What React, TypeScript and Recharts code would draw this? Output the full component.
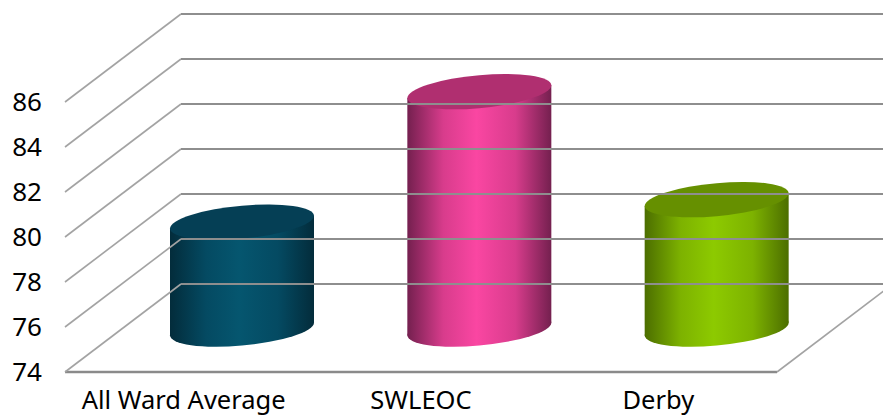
import { Bar, BarChart, XAxis, YAxis } from "recharts";

const categories = ["All Ward Average", "SWLEOC", "Derby"];
const values = [78.75, 84.55, 79.75];
const yTicks = [74, 76, 78, 80, 82, 84, 86];

const bodyColors = [
  { edge: "#032c3b", shade: "#044a62", mid: "#05566f", top: "#053f55" },
  { edge: "#74204f", shade: "#d83c8c", mid: "#fa46a2", top: "#b02f70" },
  { edge: "#4c6e00", shade: "#7db200", mid: "#8dca00", top: "#669000" },
];

const chartData = categories.map((name, i) => ({ name, value: values[i] }));

const FONT = "'Noto Sans', sans-serif";
const DEPTH_X = 116;
const DEPTH_Y = 88;
const BAR_LIFT = 43;
const FLOOR_RIGHT = 777;
const CHART_W = 883;
const CHART_H = 417;

// label, side wall line and back wall line for one value
function WallTick({ y, payload }: any) {
  return (
    <g>
      <line x1={65} y1={y} x2={65 + DEPTH_X} y2={y - DEPTH_Y} stroke="#a3a3a3" strokeWidth={1.6} />
      <line x1={65 + DEPTH_X} y1={y - DEPTH_Y} x2={CHART_W} y2={y - DEPTH_Y} stroke="#8e8e8e" strokeWidth={2} />
      {payload.value === yTicks[0] && (
        <line
          x1={FLOOR_RIGHT}
          y1={y}
          x2={FLOOR_RIGHT + DEPTH_X}
          y2={y - DEPTH_Y}
          stroke="#a3a3a3"
          strokeWidth={1.6}
        />
      )}
      <text x={42} y={y} dy={9} textAnchor="end" fontFamily={FONT} fontSize={26} fill="#000">
        {payload.value}
      </text>
    </g>
  );
}

// cylinder standing halfway back on the floor
function Cylinder({ x, y, width, height, index }: any) {
  const rx = width / 2;
  const ry = 16.5;
  const shear = -0.088;
  const cx = x + rx + DEPTH_X / 2;
  const top = y - BAR_LIFT;
  const bottom = y + height - BAR_LIFT;
  const tilt = rx * shear;
  const fill = `url(#cyl${index})`;
  return (
    <g>
      <ellipse rx={rx} ry={ry} fill={fill} transform={`translate(${cx} ${bottom}) matrix(1 ${shear} 0 1 0 0)`} />
      <polygon
        points={`${cx - rx},${top - tilt} ${cx + rx},${top + tilt} ${cx + rx},${bottom + tilt} ${cx - rx},${bottom - tilt}`}
        fill={fill}
      />
      <ellipse
        rx={rx}
        ry={ry}
        fill={bodyColors[index].top}
        transform={`translate(${cx} ${top}) matrix(1 ${shear} 0 1 0 0)`}
      />
    </g>
  );
}

export default function App() {
  return (
    <div style={{ position: "absolute", left: 0, top: 0, width: CHART_W, height: CHART_H, overflow: "hidden" }}>
      <BarChart
        width={CHART_W}
        height={CHART_H}
        data={chartData}
        margin={{ top: 102, right: CHART_W - FLOOR_RIGHT, bottom: 0, left: 0 }}
        barSize={144}
      >
        <defs>
          {bodyColors.map((c, i) => (
            <linearGradient key={i} id={`cyl${i}`} x1="0" y1="0" x2="1" y2="0">
              <stop offset="0%" stopColor={c.edge} />
              <stop offset="25%" stopColor={c.shade} />
              <stop offset="48%" stopColor={c.mid} />
              <stop offset="75%" stopColor={c.shade} />
              <stop offset="100%" stopColor={c.edge} />
            </linearGradient>
          ))}
        </defs>
        <YAxis
          domain={[74, 86]}
          ticks={yTicks}
          width={65}
          axisLine={false}
          tickLine={false}
          tick={<WallTick />}
          interval={0}
        />
        <XAxis
          dataKey="name"
          height={45}
          interval={0}
          tickLine={false}
          axisLine={{ stroke: "#8a8a8a", strokeWidth: 2.4 }}
          tick={{ fill: "#000", fontFamily: FONT, fontSize: 25.5 }}
          tickMargin={13}
        />
        <Bar dataKey="value" isAnimationActive={false} shape={<Cylinder />} />
      </BarChart>
    </div>
  );
}
